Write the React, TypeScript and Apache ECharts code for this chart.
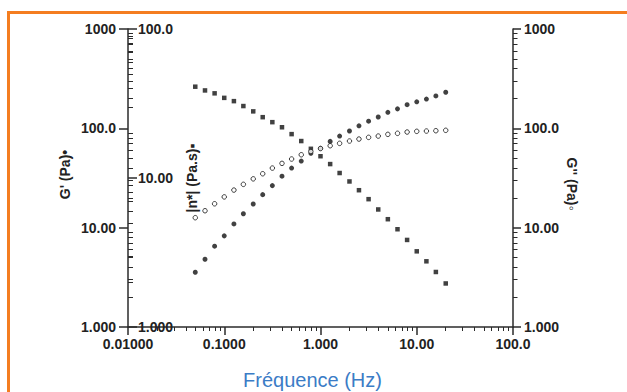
import React, { useEffect, useRef } from "react";
import * as echarts from "echarts";

// Oscillation frequency (Hz)
const frequencies = [0.05, 0.0631, 0.0794, 0.1, 0.126, 0.158, 0.2, 0.251, 0.316, 0.398, 0.501, 0.631, 0.794, 1.0, 1.26, 1.58, 2.0, 2.51, 3.16, 3.98, 5.01, 6.31, 7.94, 10.0, 12.6, 15.8, 20.0];
// G' (Pa) - filled circles, left axis
const gPrime = [3.56, 4.81, 6.51, 8.27, 10.9, 13.8, 17.3, 21.5, 26.5, 33.0, 39.8, 46.8, 56, 62.9, 73.9, 83.6, 94, 106, 118, 130, 145, 157, 173, 185, 197, 212, 231];
// G'' (Pa) - open circles, right axis
const gDouble = [12.6, 14.8, 17.4, 20.4, 23.9, 27.3, 31.0, 34.9, 39.8, 44.4, 49.1, 54.2, 58.4, 62.6, 66.8, 70.6, 74.5, 78, 81.1, 83.6, 87, 89.1, 91.8, 93.3, 93.9, 94.6, 95.5];
// |n*| (Pa.s) - filled squares, inner left axis
const etaStar = [41, 38.7, 37, 34.5, 32.8, 30.4, 28, 25.6, 23.7, 21.9, 19.7, 17.7, 15.7, 14.0, 12.4, 10.8, 9.48, 8.28, 7.21, 6.15, 5.29, 4.53, 3.84, 3.22, 2.76, 2.34, 1.96];

// Tick labels
const xTicks = [0.01, 0.1, 1, 10, 100];
const gTicks = [1, 10, 100, 1000];
const etaTicks = [1, 10, 100];
const minorMultipliers = [2, 3, 4, 5, 6, 7, 8, 9];

const minorOf = (majors: number[]) => {
  const out: number[] = [];
  for (let i = 0; i < majors.length - 1; i++) {
    for (const m of minorMultipliers) out.push(+(majors[i] * m).toPrecision(6));
  }
  return out;
};

const FONT = "'Liberation Sans', Arial, Helvetica, sans-serif";
const AXIS_COLOR = "#2b2b2b";
const ORANGE = "#f47d20";

export default function App() {
  const ref = useRef<HTMLDivElement>(null);

  useEffect(() => {
    if (!ref.current) return;
    const chart = echarts.init(ref.current, undefined, { renderer: "svg" });
    const fmt = (v: any) => Number(v).toPrecision(4);
    const lineStyle = { color: AXIS_COLOR, width: 1.5 };
    const label = {
      color: "#222",
      fontSize: 14,
      fontWeight: "bold" as const,
      fontFamily: FONT,
      formatter: fmt,
    };

    const logAxisBase = (min: number, max: number) => ({
      type: "log" as const,
      logBase: 10,
      min,
      max,
      splitLine: { show: false },
      minorTick: { show: false },
      minorSplitLine: { show: false },
    });

    const option: any = {
      animation: false,
      grid: { left: 128, right: 114, top: 29, bottom: 65 },
      xAxis: [
        {
          ...logAxisBase(0.01, 100),
          position: "bottom",
          axisLine: { show: true, onZero: false, lineStyle },
          axisTick: { show: true, customValues: xTicks, length: 8, lineStyle },
          axisLabel: { ...label, customValues: xTicks, margin: 10 },
        },
        {
          ...logAxisBase(0.01, 100),
          position: "bottom",
          axisLine: { show: false, onZero: false },
          axisTick: { show: true, customValues: minorOf(xTicks), length: 4, lineStyle: { color: AXIS_COLOR, width: 1 } },
          axisLabel: { show: false },
        },
      ],
      yAxis: [
        {
          ...logAxisBase(1, 1000),
          position: "left",
          axisLine: { show: true, onZero: false, lineStyle },
          axisTick: { show: true, customValues: gTicks, length: 9, lineStyle },
          axisLabel: { ...label, customValues: gTicks, margin: 12 },
        },
        {
          ...logAxisBase(1, 1000),
          position: "left",
          axisLine: { show: false, onZero: false },
          axisTick: { show: true, inside: true, customValues: minorOf(gTicks), length: 5, lineStyle: { color: AXIS_COLOR, width: 1 } },
          axisLabel: { show: false },
        },
        {
          ...logAxisBase(1, 100),
          position: "left",
          axisLine: { show: false, onZero: false },
          axisTick: { show: true, inside: true, customValues: etaTicks, length: 9, lineStyle },
          axisLabel: { ...label, inside: true, customValues: etaTicks, margin: 10 },
        },
        {
          ...logAxisBase(1, 100),
          position: "left",
          axisLine: { show: false, onZero: false },
          axisTick: { show: true, inside: true, customValues: minorOf(etaTicks), length: 5, lineStyle: { color: AXIS_COLOR, width: 1 } },
          axisLabel: { show: false },
        },
        {
          ...logAxisBase(1, 1000),
          position: "right",
          axisLine: { show: true, onZero: false, lineStyle },
          axisTick: { show: true, customValues: gTicks, length: 8, lineStyle },
          axisLabel: { ...label, customValues: gTicks, margin: 11 },
        },
        {
          ...logAxisBase(1, 1000),
          position: "right",
          axisLine: { show: false, onZero: false },
          axisTick: { show: true, customValues: minorOf(gTicks), length: 4.5, lineStyle: { color: AXIS_COLOR, width: 1 } },
          axisLabel: { show: false },
        },
      ],
      series: [
        {
          name: "G'",
          type: "scatter",
          xAxisIndex: 0,
          yAxisIndex: 0,
          symbol: "circle",
          symbolSize: 5,
          itemStyle: { color: "#111" },
          data: frequencies.map((f, i) => [f, gPrime[i]]),
        },
        {
          name: "|n*|",
          type: "scatter",
          xAxisIndex: 0,
          yAxisIndex: 2,
          symbol: "rect",
          symbolSize: 4.5,
          itemStyle: { color: "#111" },
          data: frequencies.map((f, i) => [f, etaStar[i]]),
        },
        {
          name: "G''",
          type: "scatter",
          xAxisIndex: 0,
          yAxisIndex: 4,
          symbol: "circle",
          symbolSize: 4.5,
          itemStyle: { color: "#fff", borderColor: "#111", borderWidth: 1 },
          data: frequencies.map((f, i) => [f, gDouble[i]]),
        },
      ],
      graphic: [
        { type: "line", shape: { x1: 7, y1: 12.5, x2: 627, y2: 12.5 }, style: { stroke: ORANGE, lineWidth: 3 } },
        { type: "line", shape: { x1: 8.5, y1: 11, x2: 8.5, y2: 392 }, style: { stroke: ORANGE, lineWidth: 3 } },
        {
          type: "text",
          x: 312.5,
          y: 380,
          style: { text: "Fréquence (Hz)", fill: "#3b7cc6", fontSize: 20, fontFamily: FONT, align: "center", verticalAlign: "middle" },
        },
        {
          type: "text",
          x: 65,
          y: 174.5,
          rotation: Math.PI / 2,
          style: { text: "G' (Pa)•", fill: "#222", fontSize: 14, fontWeight: "bold", fontFamily: FONT, align: "center", verticalAlign: "middle" },
        },
        {
          type: "text",
          x: 191.5,
          y: 178,
          rotation: Math.PI / 2,
          style: { text: "|n*| (Pa.s)▪", fill: "#222", fontSize: 14, fontWeight: "bold", fontFamily: FONT, align: "center", verticalAlign: "middle" },
        },
        {
          type: "text",
          x: 571.7,
          y: 184,
          rotation: -Math.PI / 2,
          style: { text: "G'' (Pa)◦", fill: "#222", fontSize: 14, fontWeight: "bold", fontFamily: FONT, align: "center", verticalAlign: "middle" },
        },
      ],
    };

    chart.setOption(option);
    return () => chart.dispose();
  }, []);

  return <div ref={ref} style={{ position: "fixed", left: 0, top: 0, width: 627, height: 392, background: "#fff" }} />;
}
